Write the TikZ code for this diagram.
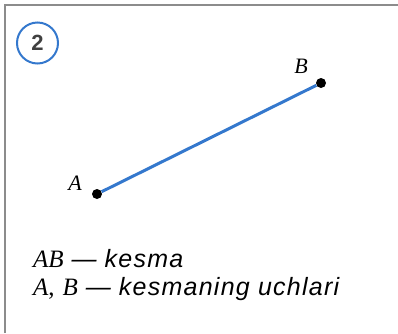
\documentclass[tikz,border=0pt]{standalone}
\usepackage{fontspec}
\setmainfont{Liberation Serif}
\setsansfont{Liberation Sans}[LetterSpace=5]
\usetikzlibrary{positioning}
\definecolor{segblue}{RGB}{52,120,205}
\definecolor{framegray}{RGB}{140,140,140}

\begin{document}
\begin{tikzpicture}[x=1pt, y=-1pt]

% Define styles
\tikzstyle{point} = [circle, fill=black, inner sep=0pt, minimum size=10pt]
\tikzstyle{ptlabel} = [font=\fontsize{22}{22}\selectfont\itshape, inner sep=0pt]
\tikzstyle{caption} = [anchor=base west, inner sep=0pt, font=\fontsize{25}{25}\selectfont]

\useasboundingbox (0,0) rectangle (398,333);

% Frame
\coordinate (topright) at (398,5);
\coordinate (corner) at (5,5);
\coordinate (botleft) at (5,333);
\draw[framegray, line width=2pt] (botleft) -- (corner) -- (topright);

% Number
\node[circle, draw=segblue, line width=2pt, minimum size=41pt, inner sep=0pt,
      font=\sffamily\bfseries\fontsize{22}{22}\selectfont, text=black!75] (num) at (37.5,43) {2};

% Nodes
\node[point] (A) at (97,194) {};
\node[point] (B) at (321,83) {};
\node[ptlabel] (labA) at (75,183) {A};
\node[ptlabel] (labB) at (301,66) {B};
\draw[segblue, line width=3pt] (A) -- (B);

% Captions
\node[caption] (cap1) at (33,267) {\textit{AB}\hspace{8pt}\textsf{\itshape ---\hspace{8pt}kesma}};
\node[caption] (cap2) at (33,295) {\textit{A},\hspace{8pt}\textit{B}\hspace{8pt}\textsf{\itshape ---\hspace{8pt}kesmaning uchlari}};

\end{tikzpicture}
\end{document}
